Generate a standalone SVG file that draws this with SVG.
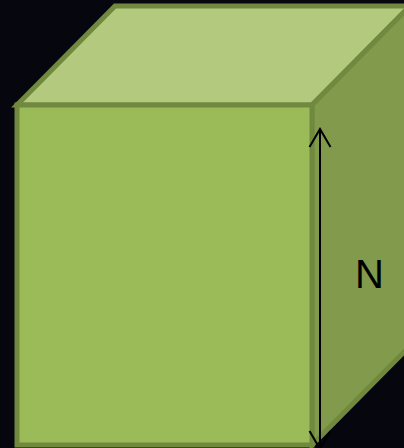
<svg xmlns="http://www.w3.org/2000/svg" width="404" height="448" viewBox="0 0 404 448">
<defs>
<style>
.face{stroke:#71893f;stroke-width:5;stroke-linejoin:miter}
.front{fill:#9bbb59}
.top{fill:#b3c97e}
.side{fill:#819a4c}
.dim{stroke:#000;stroke-width:2;fill:none}
.lbl{font-family:"Liberation Sans",Arial,sans-serif;font-size:40px;fill:#000}
</style>
<marker id="ah" viewBox="0 0 30 30" refX="23" refY="15" markerWidth="30" markerHeight="30" markerUnits="userSpaceOnUse" orient="auto-start-reverse">
<path d="M5,4.5 L23,15 L5,25.5" class="dim"/>
</marker>
</defs>
<rect width="404" height="448" fill="#06060f"/>
<g id="box">
<polygon class="face top" points="17,105 115,6 410,6 312,105"/>
<polygon class="face side" points="312,105 410,6 410,346 312,445"/>
<polygon class="face front" points="17,105 312,105 312,445 17,445"/>
</g>
<g id="connectors">
<line class="dim" x1="320" y1="129" x2="320" y2="449" marker-start="url(#ah)" marker-end="url(#ah)"/>
</g>
<g id="label">
<text class="lbl" x="369.5" y="288" text-anchor="middle">N</text>
</g>
</svg>
